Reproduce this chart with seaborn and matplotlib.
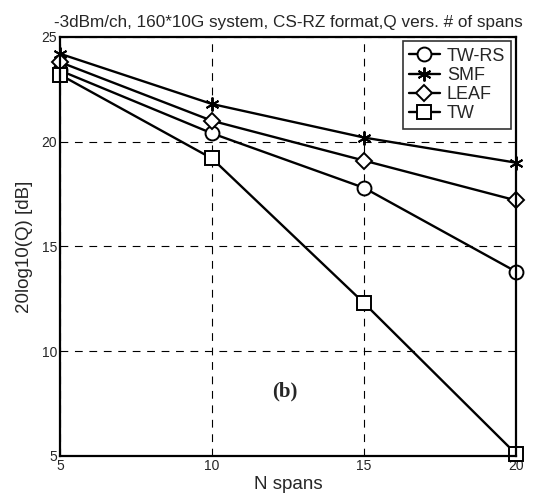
import matplotlib
matplotlib.use("Agg")
import matplotlib.pyplot as plt
import seaborn as sns
import pandas as pd

spans = [5, 10, 15, 20]
tw_rs = [23.4, 20.4, 17.8, 13.8]
smf = [24.2, 21.8, 20.2, 19.0]
leaf = [23.8, 21.0, 19.1, 17.2]
tw = [23.2, 19.2, 12.3, 5.1]
series_names = ["TW-RS", "SMF", "LEAF", "TW"]
title = "-3dBm/ch, 160*10G system, CS-RZ format,Q vers. # of spans"

sns.set_style("white")
plt.rcParams['font.family'] = ['Liberation Sans', 'DejaVu Sans']

fig = plt.figure(figsize=(5.48, 4.99), dpi=100)
ax = fig.add_axes([0.1095, 0.0862, 0.8321, 0.8397])

markers = {"TW-RS": "o", "SMF": (6, 2, 0), "LEAF": "D", "TW": "s"}
sizes = {"TW-RS": 10, "SMF": 10, "LEAF": 8, "TW": 9.5}
for name, vals in zip(series_names, [tw_rs, smf, leaf, tw]):
    d = pd.DataFrame({"N spans": spans, "Q": vals})
    sns.lineplot(data=d, x="N spans", y="Q", ax=ax, color="black",
                 marker=markers[name], linewidth=1.7, markersize=sizes[name],
                 markerfacecolor="white", markeredgecolor="black",
                 markeredgewidth=1.4, clip_on=False, label=name)

ax.set_xlim(5, 20)
ax.set_ylim(5, 25)
ax.set_xticks([5, 10, 15, 20])
ax.set_yticks([5, 10, 15, 20, 25])
ax.grid(True, color="black", linestyle=(0, (7, 6)), linewidth=0.8)
for s in ax.spines.values():
    s.set_color("black")
    s.set_linewidth(1.6)
ax.tick_params(axis="both", labelsize=10, length=0, pad=2)
ax.set_xlabel("N spans", fontsize=13.5, labelpad=2)
ax.set_ylabel("20log10(Q) [dB]", fontsize=13.5, labelpad=6)
ax.set_title(title, fontsize=12.3, pad=7)

ax.text(12.4, 8.1, "(b)", fontsize=15, fontweight="bold", family="Liberation Serif",
        ha="center", va="center")

leg = ax.legend(loc="upper right", fontsize=13, frameon=True, fancybox=False,
                edgecolor="black", handlelength=1.7, borderaxespad=0.25,
                handletextpad=0.4, labelspacing=0.12, borderpad=0.35)
leg.get_frame().set_linewidth(1.2)
for h in leg.legend_handles:
    h.set_markerfacecolor("white")
    h.set_markeredgecolor("black")

fig.savefig("out.png", dpi=100)
